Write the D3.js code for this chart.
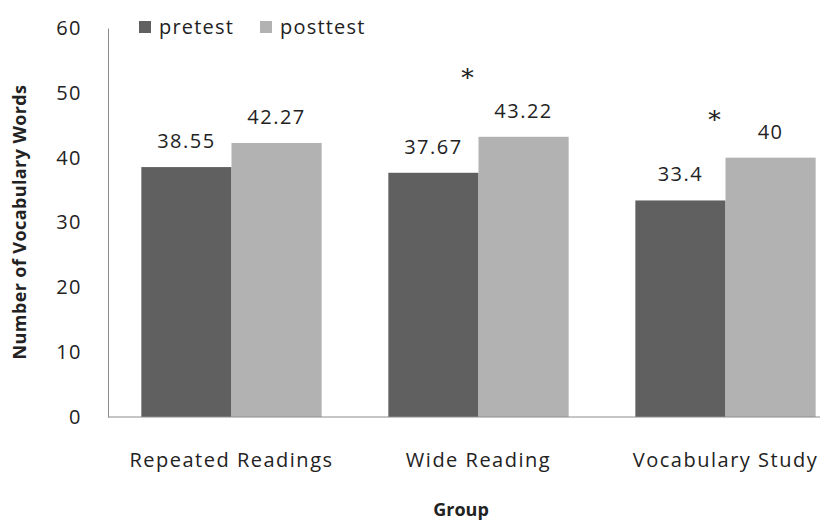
<!DOCTYPE html>
<html>
<head>
<meta charset="utf-8">
<script src="https://cdn.jsdelivr.net/npm/d3@7"></script>
<style>
  body { margin: 0; background: #fff; }
  text { font-family: "Open Sans", sans-serif; fill: #222; }
</style>
</head>
<body>
<script>
'use strict';

// chart data
const groups = ["Repeated Readings", "Wide Reading", "Vocabulary Study"];
const seriesNames = ["pretest", "posttest"];
const pretest = [38.55, 37.67, 33.4];
const posttest = [42.27, 43.22, 40];
const pretestLabels = ["38.55", "37.67", "33.4"];
const posttestLabels = ["42.27", "43.22", "40"];
// significance markers, height (value units)
const starLevel = [null, 53.1, 46.6];
const yTicks = [0, 10, 20, 30, 40, 50, 60];

const colors = ["#606060", "#b2b2b2"];

(function() {
  const width = 820, height = 522;
  const svg = d3.select('body').append('svg')
    .attr('width', width)
    .attr('height', height);

  // scales
  const xScale = d3.scaleBand()
    .domain(groups)
    .range([108, 849])
    .paddingInner(0.27)
    .paddingOuter(0.135);

  const xSub = d3.scaleBand()
    .domain(seriesNames)
    .range([0, xScale.bandwidth()]);

  const yScale = d3.scaleLinear()
    .domain([0, 60])
    .range([417, 28]);

  // y axis (line + labels, no ticks)
  const yAxis = d3.axisLeft(yScale).tickValues(yTicks).tickSize(0).tickPadding(26);
  const gy = svg.append('g').attr('transform', 'translate(108,0)').call(yAxis);
  gy.select('.domain').attr('stroke', '#8c8c8c');
  gy.selectAll('text')
    .style('font-family', '"Open Sans", sans-serif')
    .style('font-size', '20px')
    .style('letter-spacing', '1.5px')
    .attr('fill', '#222');

  // bars
  const rows = groups.map((g, i) => ({ group: g, values: [pretest[i], posttest[i]], labels: [pretestLabels[i], posttestLabels[i]] }));
  const cells = d => d.values.map((v, j) => ({ key: seriesNames[j], v: v, label: d.labels[j] }));

  const groupG = svg.selectAll('.grp')
    .data(rows)
    .enter()
    .append('g')
      .attr('class', 'grp')
      .attr('transform', d => 'translate(' + xScale(d.group) + ',0)');

  groupG.selectAll('rect')
    .data(cells)
    .enter()
    .append('rect')
      .attr('x', d => xSub(d.key))
      .attr('y', d => yScale(d.v))
      .attr('width', xSub.bandwidth())
      .attr('height', d => yScale(0) - yScale(d.v))
      .attr('fill', (d, j) => colors[j]);

  // value labels
  groupG.selectAll('.val')
    .data(cells)
    .enter()
    .append('text')
      .attr('class', 'val')
      .attr('x', d => xSub(d.key) + xSub.bandwidth() / 2)
      .attr('y', d => yScale(d.v) - 19)
      .attr('text-anchor', 'middle')
      .style('font-size', '20px')
      .style('letter-spacing', '1.5px')
      .text(d => d.label);

  // baseline
  svg.append('line')
    .attr('x1', 108).attr('x2', width)
    .attr('y1', yScale(0)).attr('y2', yScale(0))
    .attr('stroke', '#8c8c8c');

  // asterisks
  groups.forEach((g, i) => {
    if (starLevel[i] == null) return;
    svg.append('text')
      .attr('x', xScale(g) + xScale.bandwidth() / 2 - 11)
      .attr('y', yScale(starLevel[i]) + 13)
      .attr('text-anchor', 'middle')
      .style('font-family', '"DejaVu Serif", serif')
      .style('font-size', '25px')
      .text('*');
  });

  // x category labels
  svg.selectAll('.cat')
    .data(groups)
    .enter()
    .append('text')
      .attr('class', 'cat')
      .attr('x', d => xScale(d) + xScale.bandwidth() / 2)
      .attr('y', 467)
      .attr('text-anchor', 'middle')
      .style('font-size', '20px')
      .style('letter-spacing', '1.5px')
      .text(d => d);

  // axis titles
  svg.append('text')
    .attr('transform', 'translate(26,222)rotate(-90)')
    .attr('text-anchor', 'middle')
    .style('font-size', '18px')
    .style('font-weight', 'bold')
    .style('letter-spacing', '0.4px')
    .text('Number of Vocabulary Words');

  svg.append('text')
    .attr('x', 461)
    .attr('y', 516)
    .attr('text-anchor', 'middle')
    .style('font-size', '18px')
    .style('font-weight', 'bold')
    .text('Group');

  // legend
  const legendX = [139, 260];
  seriesNames.forEach((s, i) => {
    svg.append('rect')
      .attr('x', legendX[i]).attr('y', 21)
      .attr('width', 12).attr('height', 12)
      .attr('fill', colors[i]);
    svg.append('text')
      .attr('x', legendX[i] + 20)
      .attr('y', 34)
      .style('font-size', '20px')
      .style('letter-spacing', '1.2px')
      .text(s);
  });
})();
</script>
</body>
</html>
